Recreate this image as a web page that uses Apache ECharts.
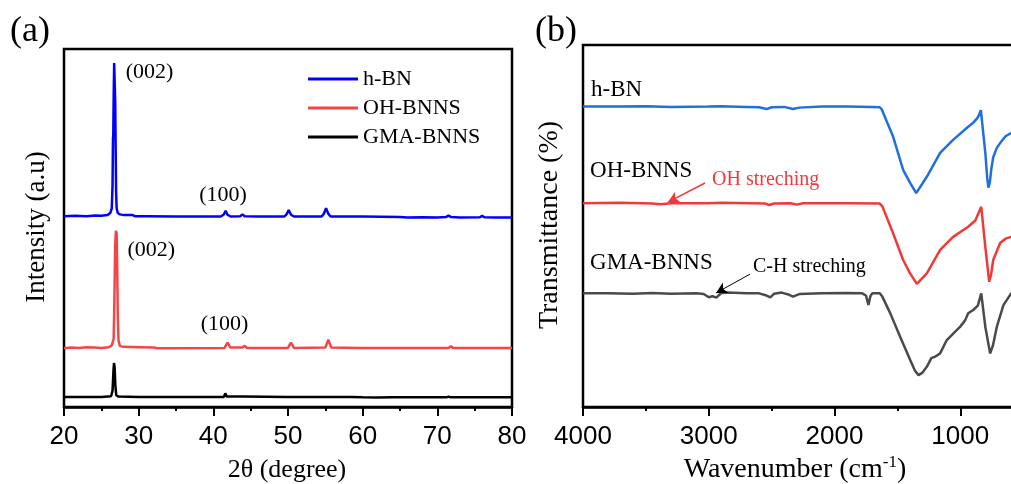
<!DOCTYPE html>
<html><head><meta charset="utf-8">
<script src="https://cdn.jsdelivr.net/npm/echarts/dist/echarts.min.js"></script>
<style>html,body{margin:0;padding:0;background:#fff;overflow:hidden}#c{width:1120px;height:484px}</style>
</head><body><div id="c"></div>
<script>
// ---------- XRD (panel a) : [2theta, offset intensity] ----------
const xrdNames = ['h-BN', 'OH-BNNS', 'GMA-BNNS'];
const hbnXRD = [[20,53.3],[21.5,53.4],[23,53.3],[24.2,53.5],[24.3,53.2],[25,53.4],[25.8,53.6],[26.2,54.2],[26.4,55.5],[26.5,62],[26.56,75],[26.6,76],[26.66,88],[26.72,96.1],[26.8,96],[26.86,85],[26.92,72],[26.98,60],[27.05,55.5],[27.2,54.2],[27.5,53.8],[28,53.6],[29.2,53.6],[29.5,53.3],[31,53.3],[35,53.2],[38,53.2],[41,53.2],[41.4,53.8],[41.65,54.8],[41.9,53.7],[42.3,53.2],[43.6,53.3],[43.9,53.8],[44.2,53.3],[46,53.2],[49.5,53.2],[49.8,53.8],[50.1,55.0],[50.4,53.7],[50.8,53.2],[54.5,53.2],[54.8,54],[55.1,55.5],[55.4,54],[55.7,53.2],[60,53.2],[65,53.1],[66,52.9],[68,53.0],[70,52.9],[71.2,53.1],[71.5,53.5],[71.8,53.1],[73,52.9],[75.7,53],[76,53.4],[76.3,53],[78,52.9],[80,52.9]];
const ohXRD = [[20,16.4],[21,16.6],[22,16.5],[23,16.7],[24,16.6],[25,16.5],[26,16.7],[26.4,17.2],[26.65,19],[26.75,30],[26.85,45],[26.95,49.2],[27.05,48.5],[27.12,40],[27.2,26],[27.3,18.5],[27.5,17],[28,16.8],[30,16.7],[32,16.6],[32.4,16.4],[35,16.4],[41.5,16.5],[41.9,18.0],[42.3,16.6],[43.9,16.6],[44.2,17.1],[44.5,16.5],[50,16.5],[50.4,18.0],[50.8,16.5],[55,16.6],[55.4,18.8],[55.8,16.6],[59.5,16.5],[59.7,16.9],[59.9,16.5],[65,16.5],[71.5,16.5],[71.8,17.0],[72.1,16.5],[76,16.5],[76.2,16.9],[76.4,16.5],[80,16.5]];
const gmaXRD = [[20,2.8],[25,2.8],[26.3,3.0],[26.5,4.5],[26.62,10],[26.7,12.3],[26.78,11],[26.88,6],[27,3.3],[27.3,2.9],[30,2.8],[41.4,2.8],[41.6,3.8],[41.8,2.9],[44,2.9],[50,2.8],[50.1,3.2],[50.3,2.8],[55,2.8],[55.1,3.1],[55.3,2.8],[58.5,2.8],[60,2.7],[62,2.65],[64,2.7],[71.2,2.7],[71.5,2.9],[71.8,2.7],[76,2.7],[76.2,3.0],[76.4,2.7],[80,2.7]];
const xrdPeakLabels = [['(002)',31.45,93.6],['(100)',41.3,59.2],['(002)',31.7,43.9],['(100)',41.5,23.2]];

// ---------- FTIR (panel b) : [wavenumber, offset transmittance] ----------
const ftirNames = ['h-BN', 'OH-BNNS', 'GMA-BNNS'];
const hbnFTIR = [[4000,83.0],[3700,83.0],[3500,83.1],[3300,82.9],[3000,83.0],[2900,83.1],[2700,82.9],[2600,82.8],[2540,82.3],[2500,82.8],[2400,82.9],[2330,82.3],[2280,82.7],[2100,83.0],[1900,83.0],[1700,82.9],[1640,82.8],[1624,82.2],[1580,78.5],[1534,74.7],[1454,65.5],[1400,62],[1350,59.1],[1266,63.6],[1160,70.2],[1057,73.8],[937,77.4],[897,78.5],[860,80],[836,82.0],[800,70],[785,63],[776,60.6],[765,62],[752,66],[738,69],[710,71.5],[683,72.9],[640,74.8],[595,75.7],[550,76.3]];
const ohFTIR = [[4000,56.3],[3700,56.4],[3450,56.2],[3380,56.0],[3300,56.3],[3000,56.3],[2900,56.4],[2550,56.2],[2520,55.8],[2480,56.2],[2350,56.3],[2300,55.9],[2250,56.3],[1900,56.3],[1640,56.2],[1620,55.5],[1534,48.0],[1454,40.6],[1400,37],[1345,34.0],[1266,36.9],[1160,43.4],[1057,47.0],[937,49.8],[880,51.5],[833,55.3],[800,44],[770,34.6],[755,36.5],[738,40.6],[683,45.3],[640,46.5],[595,47.0],[550,47.5]];
const gmaFTIR = [[4000,31.4],[3800,31.4],[3600,31.3],[3450,31.5],[3300,31.3],[3100,31.4],[3040,31.2],[3000,30.3],[2970,30.6],[2940,30.2],[2900,31.5],[2850,31.6],[2700,31.4],[2600,31.4],[2540,30.8],[2510,30.3],[2480,31.3],[2420,31.6],[2360,31.0],[2330,30.5],[2280,31.2],[2100,31.4],[1900,31.5],[1780,31.4],[1750,30.8],[1730,28.2],[1715,30.6],[1700,31.4],[1640,31.4],[1620,30.5],[1558,26.0],[1478,19.4],[1398,13.0],[1360,10],[1332,8.8],[1300,9.5],[1266,11.1],[1230,13.5],[1200,13.9],[1160,14.8],[1107,18.5],[1050,20.5],[1000,22.2],[960,24],[937,25.9],[897,26.8],[860,28],[833,31.4],[800,22],[762,14.8],[740,17],[709,22.2],[656,28.2],[595,31.4],[550,32]];
const ftirSeriesLabels = [['h-BN',3936,87.6],['OH-BNNS',3944,65.2],['GMA-BNNS',3944,39.8]];
const ftirNotes = [['OH streching',2974,62.7,'#f03a3a'],['C-H streching',2648,38.7,'#000']];
const ohArrow = [[3030,61.9],[3324,56.6]];
const chArrow = [[2672,36.7],[2942,31.5]];

const xrdColors = ['#0000ff','#f24646','#000000'];
const ftirColors = ['#2070dc','#f03a3a','#4a4a4a'];
const SERIF = '"Liberation Serif","Times New Roman",serif';
const SANS = '"Liberation Sans",Arial,sans-serif';

const chart = echarts.init(document.getElementById('c'));
function xAxisBase(){
  return {
    type:'value', axisLine:{show:true, lineStyle:{color:'#000', width:2.5}},
    axisTick:{show:true, inside:false, length:9, lineStyle:{color:'#000', width:2}},
    minorTick:{show:true, splitNumber:2, length:4, lineStyle:{color:'#000', width:2}},
    axisLabel:{color:'#000', fontSize:26, fontFamily:SANS, margin:17, formatter:v => String(v)},
    splitLine:{show:false}, minorSplitLine:{show:false}
  };
}
function yAxisBase(g){
  return {type:'value', gridIndex:g, min:0, max:100, axisLine:{show:false}, axisTick:{show:false}, axisLabel:{show:false}, splitLine:{show:false}};
}
function mkLine(name, data, color, xi, extra){
  return Object.assign({type:'line', name, data, xAxisIndex:xi, yAxisIndex:xi, showSymbol:false, symbol:'none',
    lineStyle:{color, width:2.5}, itemStyle:{color}, clip:true, animation:false}, extra||{});
}
function arrow(pts, color, w){
  return {silent:true, symbol:['none','arrow'], symbolSize:[9,11], animation:false,
    lineStyle:{color, width:w, type:'solid'}, label:{show:false},
    data:[[{coord:pts[0]},{coord:pts[1]}]]};
}

const option = {
  backgroundColor:'#fff',
  animation:false,
  grid:[
    {left:64, top:49, width:448, height:358, show:true, borderColor:'#000', borderWidth:2.5},
    {left:583, top:45, width:503, height:362, show:true, borderColor:'#000', borderWidth:2.5}
  ],
  xAxis:[
    Object.assign(xAxisBase(), {gridIndex:0, min:20, max:80, interval:10}),
    Object.assign(xAxisBase(), {gridIndex:1, min:0, max:4000, interval:1000, inverse:true})
  ],
  yAxis:[yAxisBase(0), yAxisBase(1)],
  legend:{
    data:xrdNames, orient:'vertical', left:308, top:68, padding:0, icon:'rect', itemWidth:50, itemHeight:3, itemGap:7,
    textStyle:{fontSize:22, fontFamily:SERIF, color:'#000'}, selectedMode:false
  },
  series:[
    mkLine(xrdNames[0], hbnXRD, xrdColors[0], 0),
    mkLine(xrdNames[1], ohXRD, xrdColors[1], 0),
    mkLine(xrdNames[2], gmaXRD, xrdColors[2], 0),
    mkLine(ftirNames[0]+' FTIR', hbnFTIR, ftirColors[0], 1),
    mkLine(ftirNames[1]+' FTIR', ohFTIR, ftirColors[1], 1, {markLine:arrow(ohArrow, '#f03a3a', 1.6)}),
    mkLine(ftirNames[2]+' FTIR', gmaFTIR, ftirColors[2], 1, {markLine:arrow(chArrow, '#000', 1)})
  ]
};
chart.setOption(option);

function txt(text, x, y, font, color, align, rot){
  return {type:'text', x, y, rotation:rot||0, silent:true,
    style:{text, font, fill:color||'#000', align:align||'center', textAlign:align||'center', verticalAlign:'middle', textVerticalAlign:'middle'}};
}
const els = [];
xrdPeakLabels.forEach(([t,x,y]) => { const p = chart.convertToPixel({gridIndex:0},[x,y]); els.push(txt(t,p[0],p[1],'22px '+SERIF,'#000','center')); });
ftirSeriesLabels.forEach(([t,x,y]) => { const p = chart.convertToPixel({gridIndex:1},[x,y]); els.push(txt(t,p[0],p[1],'23px '+SERIF,'#000','left')); });
ftirNotes.forEach(([t,x,y,c]) => { const p = chart.convertToPixel({gridIndex:1},[x,y]); els.push(txt(t,p[0],p[1],'20px '+SERIF,c,'left')); });
els.push(txt('(a)', 30, 32, '36px '+SERIF));
els.push(txt('(b)', 556, 32, '36px '+SERIF));
els.push(txt('Intensity (a.u)', 37, 227, '27px '+SERIF, '#000', 'center', Math.PI/2));
els.push(txt('2θ (degree)', 287, 470, '26px '+SERIF));
els.push(txt('Transmittance (%)', 550, 225, '28px '+SERIF, '#000', 'center', Math.PI/2));
els.push({type:'text', x:795, y:470, silent:true, style:{
  text:'{a|Wavenumber (cm}{s|-1}{a|)}', align:'center', textAlign:'center', verticalAlign:'middle', textVerticalAlign:'middle',
  rich:{a:{fontSize:28, fontFamily:SERIF, fill:'#000', color:'#000'}, s:{fontSize:17, fontFamily:SERIF, fill:'#000', color:'#000', padding:[0,0,15,0]}}
}});
chart.setOption({graphic:{elements:els}});
</script>
</body></html>
